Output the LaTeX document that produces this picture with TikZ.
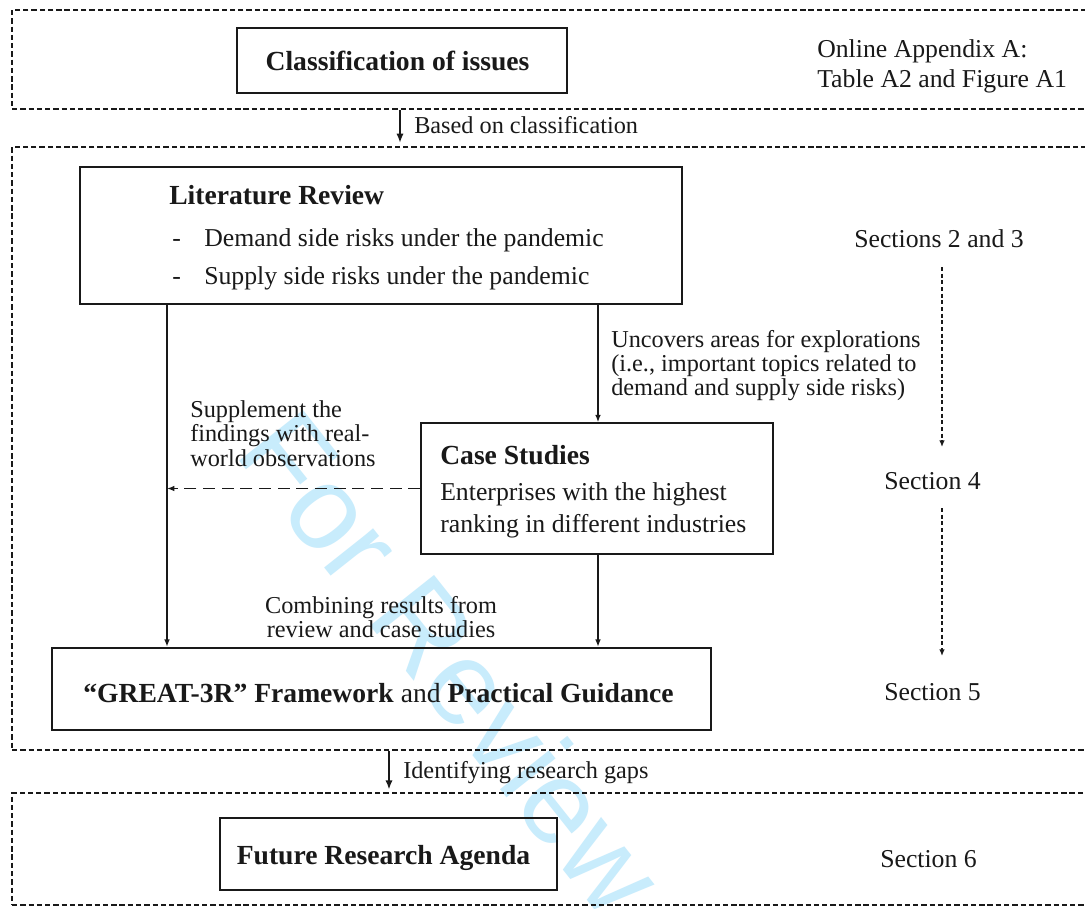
\documentclass[tikz,border=0pt]{standalone}
\usepackage{fontspec}
\setmainfont{Liberation Serif}
\newfontfamily\wmfont{Liberation Sans}
\usetikzlibrary{arrows.meta}
\definecolor{wmblue}{RGB}{200,236,252}
\definecolor{ink}{RGB}{25,25,25}
\newcommand\myBody{\fontsize{19.3pt}{23pt}\selectfont}
\newcommand\myTitle{\fontsize{20.7pt}{24pt}\selectfont\bfseries}
\newcommand\myGreat{\fontsize{20.7pt}{24pt}\selectfont}
\newcommand\myLab{\fontsize{18.2pt}{18pt}\selectfont}
\newcommand\mySide{\fontsize{19.3pt}{22.5pt}\selectfont}
\begin{document}
\begin{tikzpicture}[x=0.75pt,y=-0.75pt,
  frame/.style={draw=ink, line width=1.1pt, dash pattern=on 4pt off 2.2pt, rectangle, inner sep=0pt, minimum width=812.25pt},
  box/.style={draw=ink, rectangle, inner sep=0pt},
  txt/.style={inner sep=0pt, text=ink},
  conn/.style={draw=ink, line width=1pt, -{Latex[length=5.5pt,width=4.2pt]}},
  bigarr/.style={draw=ink, line width=1.7pt, -{Latex[length=7pt,width=5.5pt]}},
  secarr/.style={draw=ink, line width=1.3pt, dash pattern=on 3pt off 2pt, -{Latex[length=5pt,width=4.2pt]}},
  fbarr/.style={draw=ink, line width=1pt, dash pattern=on 9pt off 5pt, -{Latex[length=5.5pt,width=4.2pt]}}
]
\clip (0,0) rectangle (1085,908);
\fill[white] (0,0) rectangle (1085,908);
% watermark
\node[rotate=-51.6, text=wmblue, inner sep=0pt, font=\wmfont\fontsize{89pt}{89pt}\selectfont] (wm) at (453,662) {For Review};

% dashed frames
\node[frame, minimum height=74.25pt] (top) at (553.5,59.5) {};
\node[frame, minimum height=452.25pt] (mid) at (553.5,448.5) {};
\node[frame, minimum height=84pt] (bot) at (553.5,849) {};

% boxes
\node[box, line width=1.8pt, minimum width=247.5pt, minimum height=48.75pt] (cls) at (402,60.5) {};
\node[box, line width=1.5pt, minimum width=451.5pt, minimum height=102.75pt] (lit) at (381,235.5) {};
\node[box, line width=1.1pt, minimum width=264pt, minimum height=98.25pt] (case) at (597,488.5) {};
\node[box, line width=1.8pt, minimum width=494.25pt, minimum height=61.5pt] (great) at (381.5,689) {};
\node[box, line width=1.4pt, minimum width=252.75pt, minimum height=54pt] (future) at (388.5,854) {};

% texts
\node[txt, anchor=base, font=\myTitle] (clsT) at (397.5,70) {Classification of issues};
\node[txt, anchor=base west, font=\mySide] (appA) at (817,57) {Online Appendix A:};
\node[txt, anchor=base west, font=\mySide] (appB) at (817,87) {Table A2 and Figure A1};
\node[txt, anchor=base west, font=\myLab] (lbBased) at (414,133) {Based on classification};

\node[txt, anchor=base west, font=\myTitle] (litT) at (169,204) {Literature Review};
\node[txt, anchor=base west, font=\myBody] (litD1) at (172,246) {-};
\node[txt, anchor=base west, font=\myBody] (litA) at (204,246) {Demand side risks under the pandemic};
\node[txt, anchor=base west, font=\myBody] (litD2) at (172,284) {-};
\node[txt, anchor=base west, font=\myBody] (litB) at (204,284) {Supply side risks under the pandemic};

\node[txt, anchor=base, font=\mySide] (s23) at (939,247) {Sections 2 and 3};
\node[txt, anchor=base, font=\mySide] (s4) at (932.5,489) {Section 4};
\node[txt, anchor=base, font=\mySide] (s5) at (932.5,700) {Section 5};
\node[txt, anchor=base, font=\mySide] (s6) at (928.5,867) {Section 6};

\node[txt, anchor=base west, font=\myLab] (uc1) at (611,347) {Uncovers areas for explorations};
\node[txt, anchor=base west, font=\myLab] (uc2) at (611,371) {(i.e., important topics related to};
\node[txt, anchor=base west, font=\myLab] (uc3) at (611,395) {demand and supply side risks)};

\node[txt, anchor=base west, font=\myLab] (sp1) at (190,417) {Supplement the};
\node[txt, anchor=base west, font=\myLab] (sp2) at (190,441) {findings with real-};
\node[txt, anchor=base west, font=\myLab] (sp3) at (190,466) {world observations};

\node[txt, anchor=base west, font=\myTitle] (caseT) at (440,464) {Case Studies};
\node[txt, anchor=base west, font=\myBody] (caseA) at (440,500) {Enterprises with the highest};
\node[txt, anchor=base west, font=\myBody] (caseB) at (440,532) {ranking in different industries};

\node[txt, anchor=base, font=\myLab] (cb1) at (381,613) {Combining results from};
\node[txt, anchor=base, font=\myLab] (cb2) at (381,637) {review and case studies};

\node[txt, anchor=base, font=\myGreat] (greatT) at (378.5,702) {\textbf{“GREAT-3R” Framework} and \textbf{Practical Guidance}};
\node[txt, anchor=base west, font=\myLab] (lbIdent) at (403,778) {Identifying research gaps};
\node[txt, anchor=base, font=\myTitle] (futureT) at (383.5,864) {Future Research Agenda};

% connectors
\coordinate (xL) at (167,0);
\coordinate (xR) at (598,0);
\coordinate (xB) at (400,0);
\coordinate (xI) at (389,0);
\draw[bigarr, shorten >=2.5pt] (top.south -| xB) -- (mid.north -| xB);
\draw[bigarr, shorten >=2pt] (mid.south -| xI) -- (bot.north -| xI);
\draw[conn] (lit.south -| xL) -- (great.north -| xL);
\draw[conn] (lit.south -| xR) -- (case.north -| xR);
\draw[conn] (case.south -| xR) -- (great.north -| xR);
\draw[fbarr] (case.west) -- (case.west -| xL);

\coordinate (r1a) at (942,267);
\coordinate (r1b) at (942,447);
\coordinate (r2a) at (942,508);
\coordinate (r2b) at (942,656);
\draw[secarr] (r1a) -- (r1b);
\draw[secarr] (r2a) -- (r2b);
\end{tikzpicture}
\end{document}
